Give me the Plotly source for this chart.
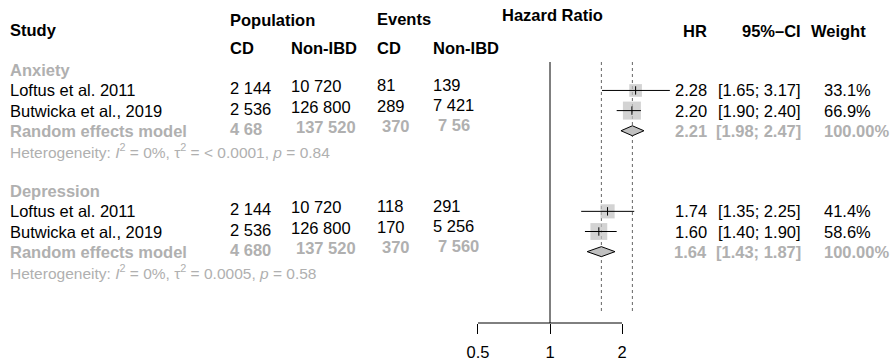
import numpy as np
import plotly.graph_objects as go

W, H = 890, 361

# ---------------- data ----------------
groups = ["Anxiety", "Depression"]
studies = ["Loftus et al. 2011", "Butwicka et al., 2019"]

anx_pop_cd = [2144, 2536]
anx_pop_non = [10720, 126800]
anx_ev_cd = [81, 289]
anx_ev_non = [139, 7421]
anx_hr = [2.28, 2.20]
anx_lo = [1.65, 1.90]
anx_hi = [3.17, 2.40]
anx_w = [33.1, 66.9]
anx_sum_counts = ["4 68", "137 520", "370", "7 56"]
anx_sum = [2.21, 1.98, 2.47]
anx_het = "Heterogeneity: <i>I</i><sup>2</sup> = 0%, τ<sup>2</sup> = < 0.0001, <i>p</i> = 0.84"

dep_pop_cd = [2144, 2536]
dep_pop_non = [10720, 126800]
dep_ev_cd = [118, 170]
dep_ev_non = [291, 5256]
dep_hr = [1.74, 1.60]
dep_lo = [1.35, 1.40]
dep_hi = [2.25, 1.90]
dep_w = [41.4, 58.6]
dep_sum_counts = ["4 680", "137 520", "370", "7 560"]
dep_sum = [1.64, 1.43, 1.87]
dep_het = "Heterogeneity: <i>I</i><sup>2</sup> = 0%, τ<sup>2</sup> = 0.0005, <i>p</i> = 0.58"

x_ticks = [0.5, 1, 2]
x_tick_labels = ["0.5", "1", "2"]

# ---------------- layout constants ----------------
FONT = "Liberation Sans, Arial, Helvetica, sans-serif"
FS = 16.5
FS_HET = 15.5
BLACK = "#000000"
GREY_TXT = "#b0b0b0"
SQ_COL = "#c0c0c0"
DIA_COL = "#c0c0c0"

ROW0 = 70.3
ROW_H = 20.15
AXIS_Y = 323
LINE_TOP = 62
DOT_BOTTOM = 313
PX_ONE = 550.0          # pixel of HR = 1
PX_PER_LOG10 = 239.2
DOM_L, DOM_R = 440, 700

COL_STUDY = 8
COL_NUM = [228, 288.5, 375, 430.5]
COL_NUM_DY = [-2, -4, -5, -5.5]
SUM_DX = [0, 5, 5, 5]
COL_HR = 709
COL_CI = 803
COL_W = 822

def fmt(v):
    return f"{v:,}".replace(",", " ")

fig = go.Figure()
ann = []

def txt(x, y, s, anchor="left", color=BLACK, size=FS, bold=False):
    if bold:
        s = f"<b>{s}</b>"
    ann.append(dict(x=x / W, y=y, xref="paper", yref="y", text=s, showarrow=False,
                    xanchor=anchor, yanchor="middle",
                    font=dict(family=FONT, size=size, color=color)))

def row_y(i):
    return ROW0 + ROW_H * i

# headers
txt(COL_STUDY, 30, "Study", bold=True)
txt(COL_NUM[0], 19.5, "Population", bold=True)
txt(COL_NUM[2], 19, "Events", bold=True)
txt(552, 14.7, "Hazard Ratio", anchor="center", bold=True)
for c, lab in zip(COL_NUM, ["CD", "Non-IBD", "CD", "Non-IBD"]):
    txt(c, 47.5, lab, bold=True)
txt(COL_HR, 31.3, "HR", anchor="right", bold=True)
txt(COL_CI, 31.3, "95%–CI", anchor="right", bold=True)
txt(868, 31.3, "Weight", anchor="right", bold=True)

sections = [
    (groups[0], anx_pop_cd, anx_pop_non, anx_ev_cd, anx_ev_non, anx_hr, anx_lo, anx_hi, anx_w,
     anx_sum_counts, anx_sum, anx_het),
    (groups[1], dep_pop_cd, dep_pop_non, dep_ev_cd, dep_ev_non, dep_hr, dep_lo, dep_hi, dep_w,
     dep_sum_counts, dep_sum, dep_het),
]

sq_x, sq_y, sq_s = [], [], []
summary_est = []
for si, (gname, pc, pn, ec, en, hr, lo, hi, w, sc, sm, het) in enumerate(sections):
    base = si * 6
    txt(COL_STUDY, row_y(base), gname, color=GREY_TXT, bold=True)
    for k in range(len(studies)):
        y = row_y(base + 1 + k)
        txt(COL_STUDY, y, studies[k])
        for j, v in enumerate([pc[k], pn[k], ec[k], en[k]]):
            txt(COL_NUM[j], y + COL_NUM_DY[j], fmt(v))
        txt(COL_HR, y, f"{hr[k]:.2f}", anchor="right")
        txt(COL_CI, y, f"[{lo[k]:.2f}; {hi[k]:.2f}]", anchor="right")
        txt(COL_W, y, f"{w[k]:.1f}%")
        sq_x.append(hr[k]); sq_y.append(y); sq_s.append(2.2 * np.sqrt(w[k]))
    ys = row_y(base + 3)
    txt(COL_STUDY, ys, "Random effects model", color=GREY_TXT, bold=True)
    for j, v in enumerate(sc):
        txt(COL_NUM[j] + SUM_DX[j], ys + COL_NUM_DY[j], v, color=GREY_TXT, bold=True)
    txt(COL_HR, ys, f"{sm[0]:.2f}", anchor="right", color=GREY_TXT, bold=True)
    txt(COL_CI, ys, f"[{sm[1]:.2f}; {sm[2]:.2f}]", anchor="right", color=GREY_TXT, bold=True)
    txt(COL_W, ys, "100.00%", color=GREY_TXT, bold=True)
    txt(COL_STUDY, row_y(base + 4), het, color=GREY_TXT, size=FS_HET)
    summary_est.append(sm[0])

# reference lines
fig.add_trace(go.Scatter(x=[1, 1], y=[LINE_TOP, AXIS_Y], mode="lines",
                         line=dict(color=BLACK, width=1), hoverinfo="skip"))
for s in summary_est:
    fig.add_trace(go.Scatter(x=[s, s], y=[LINE_TOP, DOT_BOTTOM], mode="lines",
                             line=dict(color="#666666", width=1, dash="dot"), hoverinfo="skip"))

# squares
fig.add_trace(go.Scatter(x=sq_x, y=sq_y, mode="markers",
                         marker=dict(symbol="square", size=sq_s, color=SQ_COL, line=dict(width=0))))
# CIs and diamonds
for si, (gname, pc, pn, ec, en, hr, lo, hi, w, sc, sm, het) in enumerate(sections):
    base = si * 6
    for k in range(len(studies)):
        y = row_y(base + 1 + k)
        fig.add_trace(go.Scatter(x=[lo[k], hi[k]], y=[y, y], mode="lines",
                                 line=dict(color=BLACK, width=1), hoverinfo="skip"))
    ys = row_y(base + 3)
    hh = 5
    fig.add_trace(go.Scatter(x=[sm[1], sm[0], sm[2], sm[0], sm[1]],
                             y=[ys, ys - hh, ys, ys + hh, ys], mode="lines", fill="toself",
                             fillcolor=DIA_COL, line=dict(color=BLACK, width=1), hoverinfo="skip"))
fig.add_trace(go.Scatter(x=sq_x, y=sq_y, mode="markers",
                         marker=dict(symbol="line-ns", size=6, line=dict(width=1, color=BLACK))))

# axis line
fig.add_trace(go.Scatter(x=[x_ticks[0], x_ticks[-1]], y=[AXIS_Y, AXIS_Y], mode="lines",
                         line=dict(color=BLACK, width=1), hoverinfo="skip"))

rng = [(DOM_L - PX_ONE) / PX_PER_LOG10, (DOM_R - PX_ONE) / PX_PER_LOG10]

fig.update_layout(
    width=W, height=H, margin=dict(l=0, r=0, t=0, b=0),
    paper_bgcolor="white", plot_bgcolor="rgba(0,0,0,0)", showlegend=False,
    font=dict(family=FONT, size=FS, color=BLACK),
    annotations=ann,
    xaxis=dict(type="log", domain=[DOM_L / W, DOM_R / W], range=rng,
               anchor="free", position=1 - AXIS_Y / H,
               tickvals=x_ticks, ticktext=x_tick_labels, ticks="outside", ticklen=10,
               tickwidth=1, tickcolor=BLACK, showgrid=False, zeroline=False, showline=False,
               ticklabelstandoff=4,
               tickfont=dict(family=FONT, size=FS, color=BLACK)),
    yaxis=dict(range=[H, 0], domain=[0, 1], visible=False),
)

fig.write_html("out.html")
